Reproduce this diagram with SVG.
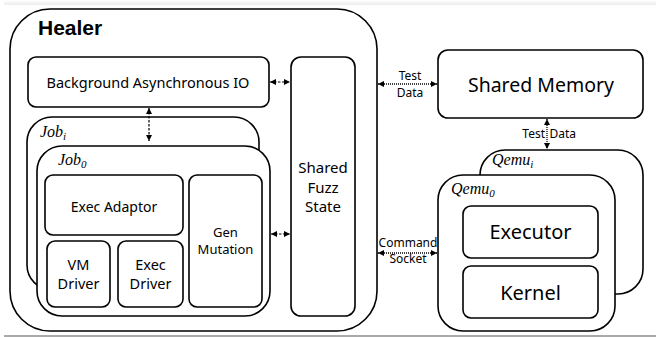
<svg xmlns="http://www.w3.org/2000/svg" width="656" height="337" viewBox="0 0 656 337">
<style>
.box{fill:#fff;stroke:#000;stroke-width:1.6}
.t{font-family:"Noto Sans","Open Sans",sans-serif;fill:#000;text-anchor:middle}
.m{font-family:"Liberation Serif","DejaVu Serif",serif;font-style:italic;fill:#000;font-size:16px}
.dash{stroke:#000;stroke-width:1.2;stroke-dasharray:2.5 1.5;fill:none}
.dot{stroke:#000;stroke-width:1.3;stroke-dasharray:1 1;fill:none}
</style>
<defs>
<marker id="ah" viewBox="0 0 6 6" refX="6" refY="3" markerWidth="6" markerHeight="6" markerUnits="userSpaceOnUse" orient="auto-start-reverse"><path d="M0,0 L6,3 L0,6 z" fill="#000"/></marker>
<linearGradient id="tg" x1="0" y1="0" x2="0" y2="1"><stop offset="0" stop-color="#fff"/><stop offset="1" stop-color="#ececec"/></linearGradient>
</defs>
<rect x="0" y="0" width="656" height="337" fill="#fff"/>
<rect x="4" y="0" width="652" height="5" fill="url(#tg)"/>
<line x1="4" y1="336" x2="656" y2="336" stroke="#555" stroke-width="1"/>

<g id="healer">
<rect class="box" x="10" y="9" width="367" height="322" rx="40"/>
<text x="38" y="35" font-family="'Liberation Sans',Arial,sans-serif" font-weight="bold" font-size="21">Healer</text>
</g>
<g id="baio">
<rect class="box" x="28" y="57" width="241" height="50" rx="8"/>
<text class="t" x="148" y="88" font-size="14.5">Background Asynchronous IO</text>
</g>
<g id="shared-fuzz-state">
<rect class="box" x="291" y="57" width="64" height="259" rx="10"/>
<text class="t" font-size="15"><tspan x="323" y="173">Shared</tspan><tspan x="323" y="193">Fuzz</tspan><tspan x="323" y="212">State</tspan></text>
</g>
<g id="job-i">
<rect class="box" x="27" y="117" width="232" height="173" rx="25"/>
<text class="m" x="40" y="137">Job<tspan font-size="11" dy="3">i</tspan></text>
</g>
<g id="job-0">
<rect class="box" x="37" y="146" width="233" height="170" rx="25"/>
<text class="m" x="58" y="165">Job<tspan font-size="11" dy="3">0</tspan></text>
</g>
<g id="exec-adaptor">
<rect class="box" x="45" y="175" width="138" height="60" rx="8"/>
<text class="t" x="114" y="212" font-size="14">Exec Adaptor</text>
</g>
<g id="vm-driver">
<rect class="box" x="47" y="241" width="63" height="66" rx="8"/>
<text class="t" font-size="14.5"><tspan x="78.5" y="270">VM</tspan><tspan x="78.5" y="289">Driver</tspan></text>
</g>
<g id="exec-driver">
<rect class="box" x="118" y="241" width="65" height="66" rx="8"/>
<text class="t" font-size="14.5"><tspan x="150.5" y="270">Exec</tspan><tspan x="150.5" y="289">Driver</tspan></text>
</g>
<g id="gen-mutation">
<rect class="box" x="189" y="175" width="73" height="132" rx="8"/>
<text class="t" font-size="13"><tspan x="225.5" y="237">Gen</tspan><tspan x="225.5" y="254">Mutation</tspan></text>
</g>
<g id="shared-memory">
<rect class="box" x="438" y="50" width="205" height="68" rx="10"/>
<text class="t" x="541" y="92" font-size="19.5">Shared Memory</text>
</g>
<g id="qemu-i">
<rect class="box" x="480" y="150" width="163" height="144" rx="25"/>
<text class="m" x="492" y="165">Qemu<tspan font-size="11" dy="3">i</tspan></text>
</g>
<g id="qemu-0">
<rect class="box" x="438" y="175" width="177" height="156" rx="25"/>
<text class="m" x="451" y="194">Qemu<tspan font-size="11" dy="3">0</tspan></text>
</g>
<g id="executor">
<rect class="box" x="463" y="206" width="135" height="52" rx="8"/>
<text class="t" x="530.5" y="239" font-size="20">Executor</text>
</g>
<g id="kernel">
<rect class="box" x="463" y="266" width="135" height="52" rx="8"/>
<text class="t" x="530.5" y="300" font-size="20">Kernel</text>
</g>

<g id="connectors">
<line class="dash" x1="270" y1="82" x2="290" y2="82" marker-start="url(#ah)" marker-end="url(#ah)"/>
<line class="dash" x1="149" y1="108" x2="149" y2="141" marker-start="url(#ah)" marker-end="url(#ah)"/>
<line class="dash" x1="271" y1="234" x2="290" y2="234" marker-start="url(#ah)" marker-end="url(#ah)"/>
<line class="dot" x1="378" y1="84" x2="437" y2="84" marker-start="url(#ah)" marker-end="url(#ah)"/>
<line class="dot" x1="547" y1="119" x2="547" y2="149" marker-start="url(#ah)" marker-end="url(#ah)"/>
<line class="dot" x1="378" y1="253" x2="437" y2="253" marker-start="url(#ah)" marker-end="url(#ah)"/>
<text class="t" font-size="12"><tspan x="410" y="80">Test</tspan><tspan x="410" y="97">Data</tspan></text>
<text class="t" font-size="12"><tspan x="408" y="247">Command</tspan><tspan x="408" y="263">Socket</tspan></text>
<text class="t" font-size="12"><tspan x="545" y="138" text-anchor="end">Test</tspan><tspan x="549.5" y="138" text-anchor="start">Data</tspan></text>
</g>
</svg>
